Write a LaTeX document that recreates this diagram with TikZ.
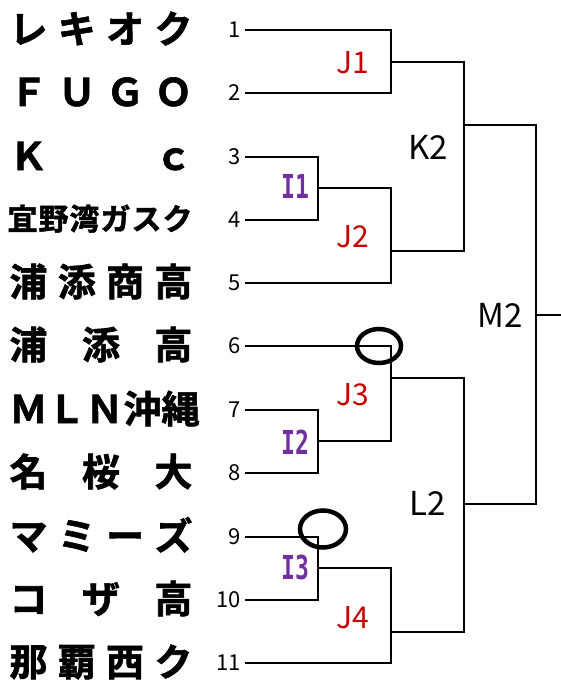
\documentclass[tikz,border=0pt]{standalone}
\usepackage{fontspec}
\usetikzlibrary{positioning,shapes.geometric}
\newfontfamily\jpfont{Noto Sans CJK JP}
\newfontfamily\jpheavy{Noto Sans CJK JP}[UprightFont=* Bold, FakeBold=1.6]
\newfontfamily\ifont{DejaVu Sans Mono}[FakeStretch=0.7]
\definecolor{jred}{RGB}{200,0,0}
\definecolor{ipurple}{RGB}{112,48,160}
\newcommand{\spreadname}[1]{\makebox[183pt][s]{#1}}

\begin{document}
\begin{tikzpicture}
  [x=1pt,y=-1pt]
      \tikzstyle{line_style} = [draw=black, line width=1.8pt]
      \tikzstyle{team_style} = [anchor=base, inner sep=0, font=\jpheavy\fontsize{38}{38}\selectfont]
      \tikzstyle{num_style} = [inner sep=1pt, font=\jpfont\fontsize{22}{22}\selectfont]
      \tikzstyle{j_style} = [text=jred, font=\jpfont\fontsize{30}{30}\selectfont]
      \tikzstyle{k_style} = [text=black, font=\jpfont\fontsize{33}{33}\selectfont]
      \tikzstyle{i_style} = [text=ipurple, font=\ifont\bfseries\fontsize{33}{33}\selectfont]
      \tikzstyle{ring_style} = [draw=black, ellipse, line width=4.5pt, inner sep=0]
  \useasboundingbox (0,0) rectangle (561,682);

  % entry points
  \coordinate (p1) at (245,30);
  \coordinate (p2) at (245,93);
  \coordinate (p3) at (245,157);
  \coordinate (p4) at (245,220);
  \coordinate (p5) at (245,283);
  \coordinate (p6) at (245,346);
  \coordinate (p7) at (245,410);
  \coordinate (p8) at (245,473);
  \coordinate (p9) at (245,537);
  \coordinate (p10) at (245,600);
  \coordinate (p11) at (245,663);

  % junctions
  \coordinate (i1) at (318,188);
  \coordinate (i2) at (318,441);
  \coordinate (i3) at (318,568);
  \coordinate (j1) at (391,62);
  \coordinate (j2) at (391,251);
  \coordinate (j3) at (391,378);
  \coordinate (j4) at (391,632);
  \coordinate (k2) at (464,125);
  \coordinate (l2) at (464,504);
  \coordinate (m2) at (536,315);
  \coordinate (out) at (561,315);

  \node[team_style] (t1) at (101,43) {\spreadname{レ\hfill キ\hfill オ\hfill ク}};
  \node[team_style] (t2) at (101,106) {\spreadname{Ｆ\hfill Ｕ\hfill Ｇ\hfill Ｏ}};
  \node[team_style] (t3) at (101,170) {\spreadname{Ｋ\hfill ｃ}};
  \node[team_style, font=\jpheavy\fontsize{30}{30}\selectfont] (t4) at (100,230) {\makebox[185pt][s]{宜\hfill 野\hfill 湾\hfill ガ\hfill ス\hfill ク}};
  \node[team_style] (t5) at (101,296) {\spreadname{浦\hfill 添\hfill 商\hfill 高}};
  \node[team_style] (t6) at (101,359) {\spreadname{浦\hfill 添\hfill 高}};
  \node[team_style] (t7) at (101,423) {\spreadname{Ｍ\hfill Ｌ\hfill Ｎ\hfill 沖\hfill 縄}};
  \node[team_style] (t8) at (101,486) {\spreadname{名\hfill 桜\hfill 大}};
  \node[team_style] (t9) at (101,550) {\spreadname{マ\hfill ミ\hfill ー\hfill ズ}};
  \node[team_style] (t10) at (101,613) {\spreadname{コ\hfill ザ\hfill 高}};
  \node[team_style] (t11) at (101,676) {\spreadname{那\hfill 覇\hfill 西\hfill ク}};

  \node[num_style, left=3pt of p1] (n1) {1};
  \node[num_style, left=3pt of p2] (n2) {2};
  \node[num_style, left=3pt of p3] (n3) {3};
  \node[num_style, left=3pt of p4] (n4) {4};
  \node[num_style, left=3pt of p5] (n5) {5};
  \node[num_style, left=3pt of p6] (n6) {6};
  \node[num_style, left=3pt of p7] (n7) {7};
  \node[num_style, left=3pt of p8] (n8) {8};
  \node[num_style, left=3pt of p9] (n9) {9};
  \node[num_style, left=3pt of p10] (n10) {10};
  \node[num_style, left=3pt of p11] (n11) {11};

  \draw[line_style] (p1) -| (j1) |- (p2);
  \draw[line_style] (p3) -| (i1) |- (p4);
  \draw[line_style] (i1) -| (j2) |- (p5);
  \draw[line_style] (p6) -| (j3) |- (i2);
  \draw[line_style] (p7) -| (i2) |- (p8);
  \draw[line_style] (p9) -| (i3) |- (p10);
  \draw[line_style] (i3) -| (j4) |- (p11);
  \draw[line_style] (j1) -| (k2) |- (j2);
  \draw[line_style] (j3) -| (l2) |- (j4);
  \draw[line_style] (k2) -| (m2) |- (l2);
  \draw[line_style] (m2) -- (out);

  \node[j_style] (lj1) at (353,63) {J1};
  \node[j_style] (lj2) at (353,237) {J2};
  \node[j_style] (lj3) at (353,395) {J3};
  \node[j_style] (lj4) at (353,618) {J4};
  \node[i_style] (li1) at (295,186) {I1};
  \node[i_style] (li2) at (295,442) {I2};
  \node[i_style] (li3) at (295,567) {I3};
  \node[k_style] (lk2) at (428,147) {K2};
  \node[k_style] (ll2) at (428,503) {L2};
  \node[k_style] (lm2) at (500,315) {M2};

  \node[ring_style, minimum width=44pt, minimum height=34pt] (r1) at (379,346) {};
  \node[ring_style, minimum width=46pt, minimum height=37pt] (r2) at (323,529) {};
\end{tikzpicture}
\end{document}
